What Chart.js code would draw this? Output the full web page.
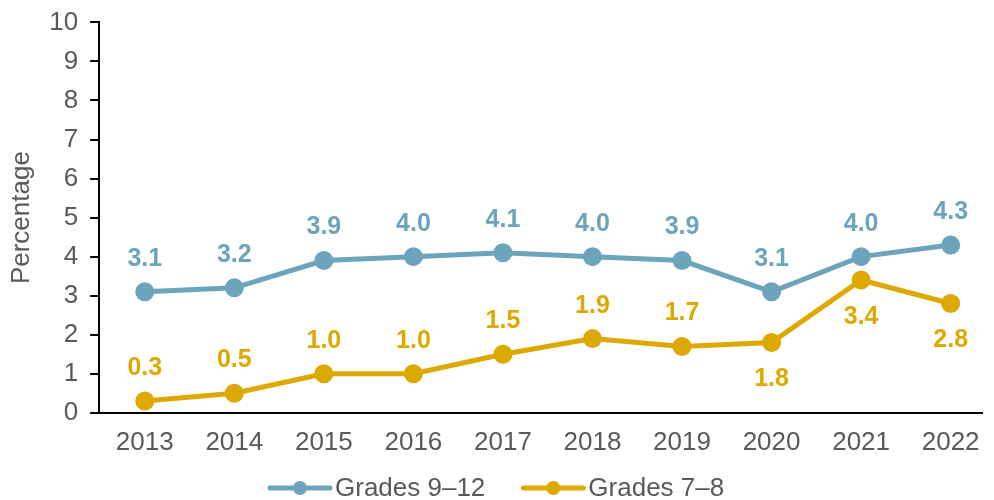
<!DOCTYPE html>
<html>
<head>
<meta charset="utf-8">
<script src="https://cdn.jsdelivr.net/npm/chart.js@4.4.1/dist/chart.umd.min.js"></script>
<style>
  html, body { margin: 0; padding: 0; background: #fff; }
  #wrap { width: 994px; height: 500px; position: relative; }
</style>
</head>
<body>
<div id="wrap"><canvas id="chart"></canvas></div>
<script>
const years = [2013, 2014, 2015, 2016, 2017, 2018, 2019, 2020, 2021, 2022];
const grades912 = [3.1, 3.2, 3.9, 4.0, 4.1, 4.0, 3.9, 3.1, 4.0, 4.3];
const grades78 = [0.3, 0.5, 1.0, 1.0, 1.5, 1.9, 1.7, 1.8, 3.4, 2.8];
const labelPos912 = ["up", "up", "up", "up", "up", "up", "up", "up", "up", "up"];
const labelPos78 = ["up", "up", "up", "up", "up", "up", "up", "down", "down", "down"];
const seriesNames = ["Grades 9\u201312", "Grades 7\u20138"];

const BLUE = "#6BA4BB";
const GOLD = "#DDA900";
const GREY = "#595959";
const FONT = "'Liberation Sans', Arial, sans-serif";

const pointData = (vals) => years.map((y, i) => ({ x: y, y: vals[i] }));

// value labels above/below each point
const valueLabels = {
  id: "valueLabels",
  afterDatasetsDraw(chart) {
    const ctx = chart.ctx;
    ctx.save();
    ctx.font = "bold 25px " + FONT;
    ctx.textAlign = "center";
    ctx.textBaseline = "middle";
    chart.data.datasets.forEach((ds, di) => {
      const meta = chart.getDatasetMeta(di);
      ctx.fillStyle = ds.borderColor;
      meta.data.forEach((pt, i) => {
        const off = ds.labelPos[i] === "down" ? 37 : -33;
        ctx.fillText(ds.data[i].y.toFixed(1), pt.x, pt.y + off);
      });
    });
    ctx.restore();
  }
};

// bottom legend: line with dot, then text
const bottomLegend = {
  id: "bottomLegend",
  afterDraw(chart) {
    const ctx = chart.ctx;
    ctx.save();
    ctx.font = "26px " + FONT;
    ctx.textBaseline = "middle";
    const y = 488;
    const lineW = 64, gap = 3, itemGap = 36;
    let x = 268;
    chart.data.datasets.forEach(ds => {
      ctx.strokeStyle = ds.borderColor;
      ctx.lineWidth = 5;
      ctx.lineCap = "round";
      ctx.beginPath();
      ctx.moveTo(x + 2, y);
      ctx.lineTo(x + lineW - 2, y);
      ctx.stroke();
      ctx.fillStyle = ds.borderColor;
      ctx.beginPath();
      ctx.arc(x + lineW / 2, y, 7, 0, Math.PI * 2);
      ctx.fill();
      ctx.fillStyle = GREY;
      ctx.fillText(ds.label, x + lineW + gap, y + 1);
      x += lineW + gap + ctx.measureText(ds.label).width + itemGap;
    });
    ctx.restore();
  }
};

new Chart(document.getElementById("chart"), {
  type: "line",
  data: {
    datasets: [
      {
        label: seriesNames[0],
        data: pointData(grades912),
        labelPos: labelPos912,
        borderColor: BLUE,
        backgroundColor: BLUE,
        borderWidth: 5,
        pointRadius: 7,
        pointHoverRadius: 7,
        tension: 0
      },
      {
        label: seriesNames[1],
        data: pointData(grades78),
        labelPos: labelPos78,
        borderColor: GOLD,
        backgroundColor: GOLD,
        borderWidth: 5,
        pointRadius: 7,
        pointHoverRadius: 7,
        tension: 0
      }
    ]
  },
  options: {
    responsive: true,
    maintainAspectRatio: false,
    animation: false,
    layout: { padding: { top: 0, right: 4, bottom: 36, left: 6 } },
    plugins: {
      legend: { display: false },
      tooltip: { enabled: false }
    },
    scales: {
      x: {
        type: "linear",
        min: 2012.49,
        max: 2022.35,
        grid: { display: false },
        border: { display: true, color: "#000", width: 2 },
        ticks: {
          stepSize: 1,
          includeBounds: false,
          autoSkip: false,
          maxRotation: 0,
          padding: 6,
          color: GREY,
          font: { family: FONT, size: 26 },
          callback: (v) => Number.isInteger(v) ? String(v) : ""
        }
      },
      y: {
        min: 0,
        max: 10,
        grid: { drawOnChartArea: false, drawTicks: true, tickLength: 9, color: "#000", lineWidth: 2 },
        border: { display: true, color: "#000", width: 2 },
        ticks: {
          stepSize: 1,
          padding: 12,
          color: GREY,
          font: { family: FONT, size: 26, lineHeight: 0.8 }
        },
        title: {
          display: true,
          text: "Percentage",
          color: GREY,
          font: { family: FONT, size: 26 },
          padding: { top: 0, bottom: 0 }
        }
      }
    }
  },
  plugins: [valueLabels, bottomLegend]
});
</script>
</body>
</html>
